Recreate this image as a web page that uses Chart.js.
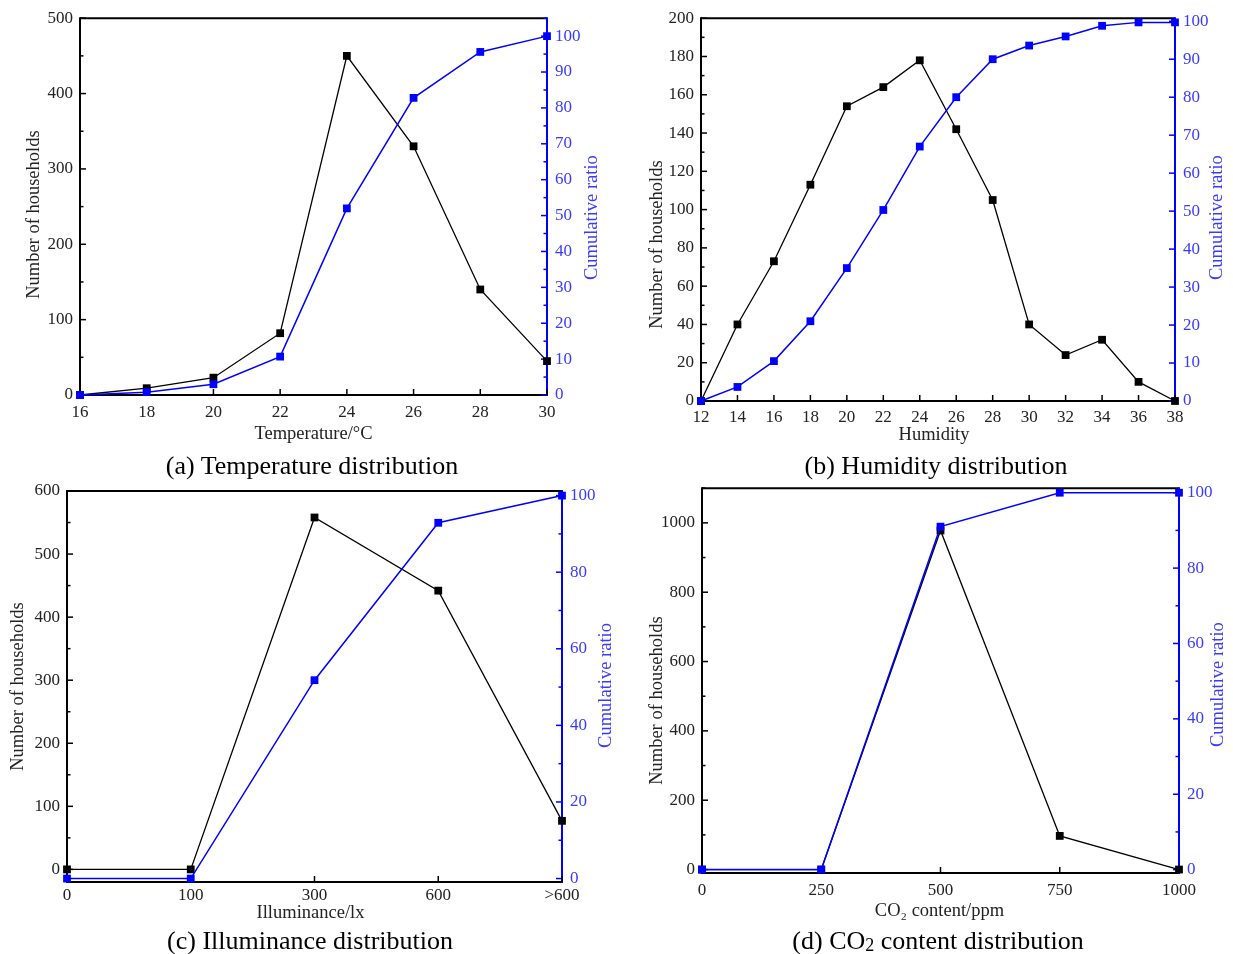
<!DOCTYPE html>
<html>
<head>
<meta charset="utf-8">
<script src="https://cdn.jsdelivr.net/npm/chart.js@4.4.1/dist/chart.umd.min.js"></script>
<style>
  body { margin: 0; background: #fff; width: 1233px; height: 954px; position: relative; overflow: hidden; font-family: 'Liberation Serif', serif; }
  canvas { position: absolute; }
  .cap { position: absolute; font-size: 26px; color: #000; white-space: nowrap; transform: translate(-50%, -50%); }
</style>
</head>
<body>
<canvas id="cTemp" width="616" height="450" style="left:0;top:0"></canvas>
<canvas id="cHum" width="613" height="450" style="left:620px;top:0"></canvas>
<canvas id="cLux" width="616" height="460" style="left:0;top:470px"></canvas>
<canvas id="cCo2" width="613" height="460" style="left:620px;top:470px"></canvas>
<div class="cap" style="left:312px;top:466px">(a) Temperature distribution</div>
<div class="cap" style="left:936px;top:466px">(b) Humidity distribution</div>
<div class="cap" style="left:310px;top:941px">(c) Illuminance distribution</div>
<div class="cap" style="left:938px;top:941px">(d) CO<sub style="font-size:18px;vertical-align:-2px">2</sub> content distribution</div>
<script>
// (a) temperature
const tempX = [16, 18, 20, 22, 24, 26, 28, 30];
const tempCount = [0, 9, 23, 82, 450, 330, 140, 45];
const tempRatio = [0, 0.8, 3, 10.7, 52, 82.8, 95.6, 100];
const tempCountTicks = [0, 100, 200, 300, 400, 500];

// (b) humidity
const humX = [12, 14, 16, 18, 20, 22, 24, 26, 28, 30, 32, 34, 36, 38];
const humCount = [0, 40, 73, 113, 154, 164, 178, 142, 105, 40, 24, 32, 10, 0];
const humRatio = [0, 3.7, 10.5, 21, 35, 50.3, 67, 80, 90, 93.6, 96, 98.8, 99.7, 99.7];
const humCountTicks = [0, 20, 40, 60, 80, 100, 120, 140, 160, 180, 200];

// (c) illuminance
const luxLabels = ['0', '100', '300', '600', '>600'];
const luxCount = [0, 0, 558, 442, 77];
const luxRatio = [0, 0, 51.8, 92.9, 100];
const luxCountTicks = [0, 100, 200, 300, 400, 500, 600];

// (d) CO2
const co2X = [0, 250, 500, 750, 1000];
const co2Count = [0, 0, 978, 97, 0];
const co2Ratio = [0, 0, 91, 100, 100];
const co2CountTicks = [0, 200, 400, 600, 800, 1000];

const ratioTicks10 = [0, 10, 20, 30, 40, 50, 60, 70, 80, 90, 100];
const ratioTicks20 = [0, 20, 40, 60, 80, 100];

const BLUE = '#0000ff';
const FONT = 'Liberation Serif';

function tickList(arr) {
  return s => { s.ticks = arr.map(v => ({ value: v })); };
}
function pairs(xs, ys) {
  return xs.map((x, i) => ({ x: x, y: ys[i] }));
}
function plain(v) { return String(v); }

function line(ctx, x1, y1, x2, y2, col) {
  ctx.strokeStyle = col;
  ctx.beginPath();
  ctx.moveTo(x1, y1);
  ctx.lineTo(x2, y2);
  ctx.stroke();
}

// frame, inward ticks and axis titles
const framePlugin = {
  id: 'frame',
  beforeDatasetsDraw(chart, args, o) {
    const ctx = chart.ctx, a = chart.chartArea, sc = chart.scales;
    ctx.save();
    ctx.lineWidth = 2;
    line(ctx, a.left, a.top, a.right, a.top, '#000');
    line(ctx, a.left, a.bottom, a.right, a.bottom, '#000');
    line(ctx, a.left, a.top - 1, a.left, a.bottom + 1, '#000');
    line(ctx, a.right, a.top - 1, a.right, a.bottom + 1, BLUE);

    ctx.lineWidth = 1.5;
    // y ticks, both sides
    [['y', a.left, 1, '#000'], ['y2', a.right, -1, BLUE]].forEach(([id, x0, dir, col]) => {
      const s = sc[id];
      const major = s.ticks.map(t => t.value);
      major.forEach(v => {
        const p = s.getPixelForValue(v);
        line(ctx, x0, p, x0 + dir * 6, p, col);
      });
      const step = o.minor[id];
      if (step) {
        for (let v = major[0]; v <= s.max; v += step) {
          if (major.indexOf(v) >= 0 || v < s.min) continue;
          const p = s.getPixelForValue(v);
          line(ctx, x0, p, x0 + dir * 3.5, p, col);
        }
      }
    });
    // x ticks
    const sx = sc.x;
    sx.ticks.forEach((t, i) => {
      const p = sx.getPixelForTick(i);
      line(ctx, p, a.bottom, p, a.bottom - 6, '#000');
    });
    ctx.restore();
  },
  afterDraw(chart, args, o) {
    const ctx = chart.ctx, a = chart.chartArea;
    const midY = (a.top + a.bottom) / 2, midX = (a.left + a.right) / 2;
    ctx.save();
    ctx.font = '18.5px ' + FONT;
    ctx.textAlign = 'center';
    ctx.textBaseline = 'middle';
    const t = o.titles;
    // left
    ctx.save();
    ctx.translate(a.left + t.left[1], midY + t.left[2]);
    ctx.rotate(-Math.PI / 2);
    ctx.fillStyle = '#222';
    ctx.fillText(t.left[0], 0, 0);
    ctx.restore();
    // right
    ctx.save();
    ctx.translate(a.right + t.right[1], midY + t.right[2]);
    ctx.rotate(-Math.PI / 2);
    ctx.fillStyle = '#3a3aff';
    ctx.fillText(t.right[0], 0, 0);
    ctx.restore();
    // bottom
    ctx.fillStyle = '#222';
    ctx.fillText(t.bottom[0], midX + t.bottom[2], a.bottom + t.bottom[1]);
    ctx.restore();
  }
};

function makePanel(id, p) {
  const linear = p.xType === 'linear';
  const blueData = linear ? pairs(p.xs, p.ratio) : p.ratio;
  const blackData = linear ? pairs(p.xs, p.count) : p.count;
  const tickFont = { family: FONT, size: 17 };
  return new Chart(document.getElementById(id), {
    type: 'line',
    data: {
      labels: linear ? undefined : p.labels,
      datasets: [
        {
          label: 'Cumulative ratio', data: blueData, yAxisID: 'y2',
          borderColor: BLUE, backgroundColor: BLUE, borderWidth: 1.5,
          pointStyle: 'rect', pointRadius: 5.5, pointBorderWidth: 0,
          tension: 0, clip: false, order: 0
        },
        {
          label: 'Number of households', data: blackData, yAxisID: 'y',
          borderColor: '#000', backgroundColor: '#000', borderWidth: 1.3,
          pointStyle: 'rect', pointRadius: 5.5, pointBorderWidth: 0,
          tension: 0, clip: false, order: 1
        }
      ]
    },
    options: {
      responsive: false,
      animation: false,
      layout: { padding: { top: p.top, left: 0, right: 0, bottom: 0 } },
      plugins: {
        legend: { display: false },
        tooltip: { enabled: false },
        frame: { minor: p.minor, titles: p.titles }
      },
      scales: {
        x: {
          type: p.xType,
          min: p.xMin, max: p.xMax,
          offset: false,
          afterBuildTicks: linear ? tickList(p.xs) : undefined,
          afterFit: s => { s.height = p.xH; },
          grid: { display: false, drawTicks: false },
          border: { display: false },
          ticks: linear
            ? { color: '#222', font: tickFont, padding: p.xPad, maxRotation: 0, autoSkip: false, callback: plain }
            : { color: '#222', font: tickFont, padding: p.xPad, maxRotation: 0, autoSkip: false }
        },
        y: {
          type: 'linear', position: 'left',
          min: p.yMin, max: p.yMax,
          afterBuildTicks: tickList(p.yTicks),
          afterFit: s => { s.width = p.yW; },
          grid: { display: false, drawTicks: false },
          border: { display: false },
          ticks: { color: '#222', font: tickFont, padding: 7, callback: plain }
        },
        y2: {
          type: 'linear', position: 'right',
          min: p.y2Min, max: p.y2Max,
          afterBuildTicks: tickList(p.y2Ticks),
          afterFit: s => { s.width = p.y2W; },
          grid: { display: false, drawTicks: false },
          border: { display: false },
          ticks: { color: '#3a3aff', font: tickFont, padding: 8, callback: plain }
        }
      }
    },
    plugins: [framePlugin]
  });
}

makePanel('cTemp', {
  xType: 'linear', xs: tempX, count: tempCount, ratio: tempRatio,
  xMin: 16, xMax: 30, yMin: 0, yMax: 500, y2Min: 0, y2Max: 105,
  yTicks: tempCountTicks, y2Ticks: ratioTicks10,
  minor: { y: 50, y2: 5 },
  top: 15, yW: 80, y2W: 69, xH: 55, xPad: 7,
  titles: { left: ['Number of households', -46, 8], right: ['Cumulative ratio', 45, 11], bottom: ['Temperature/\u00b0C', 39, 0] }
});

makePanel('cHum', {
  xType: 'linear', xs: humX, count: humCount, ratio: humRatio,
  xMin: 12, xMax: 38, yMin: 0, yMax: 200, y2Min: 0, y2Max: 100.8,
  yTicks: humCountTicks, y2Ticks: ratioTicks10,
  minor: { y: 10, y2: 0 },
  top: 15, yW: 81, y2W: 58, xH: 49, xPad: 6,
  titles: { left: ['Number of households', -44, 35], right: ['Cumulative ratio', 42, 8], bottom: ['Humidity', 34, -4] }
});

makePanel('cLux', {
  xType: 'category', labels: luxLabels, count: luxCount, ratio: luxRatio,
  yMin: -20, yMax: 600, y2Min: -0.9, y2Max: 101.2,
  yTicks: luxCountTicks, y2Ticks: ratioTicks20,
  minor: { y: 50, y2: 10 },
  top: 21, yW: 67, y2W: 54, xH: 48, xPad: 3,
  titles: { left: ['Number of households', -49, 0], right: ['Cumulative ratio', 44, -1], bottom: ['Illuminance/lx', 31, -4] }
});

makePanel('cCo2', {
  xType: 'linear', xs: co2X, count: co2Count, ratio: co2Ratio,
  xMin: 0, xMax: 1000, yMin: -10, yMax: 1100, y2Min: -0.9, y2Max: 101.2,
  yTicks: co2CountTicks, y2Ticks: ratioTicks20,
  minor: { y: 100, y2: 10 },
  top: 17, yW: 82, y2W: 54, xH: 57, xPad: 7,
  titles: { left: ['Number of households', -45, 20], right: ['Cumulative ratio', 39, 4], bottom: ['CO\u2082 content/ppm', 38, -1] }
});
</script>
</body>
</html>
